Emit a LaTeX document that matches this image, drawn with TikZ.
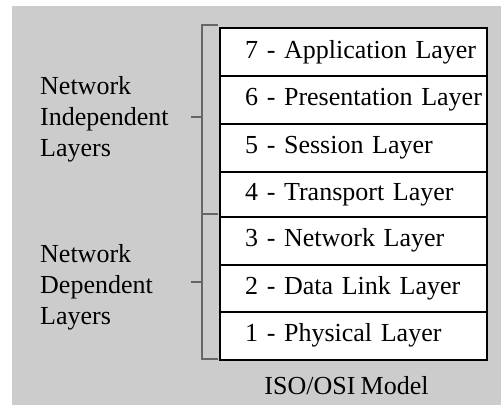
\documentclass[tikz,border=0pt]{standalone}
\usepackage{fontspec}
\setmainfont[WordSpace=0.8]{Liberation Serif}
\definecolor{panelgray}{HTML}{CCCCCC}
\definecolor{bracketgray}{HTML}{666666}
\begin{document}
\begin{tikzpicture}[x=1pt,y=-1pt,
  labelfont/.style={font=\fontsize{26}{31}\selectfont},
  layerbox/.style={labelfont, draw=black, line width=2.2pt, fill=white,
    anchor=north west, minimum width=267pt, inner xsep=0pt, inner ysep=0pt,
    text width=267pt, align=left, text height=18pt, text depth=6pt,
    execute at begin node=\hspace*{25pt}},
  grouplabel/.style={labelfont, align=left, anchor=north west, inner sep=0pt},
  bracket/.style={draw=bracketgray, line width=2pt},
  bracketmark/.style={draw=bracketgray, line width=1.2pt}]
  \useasboundingbox (0,0) rectangle (501,405);
  \fill[panelgray] (12,6) rectangle (501,405);

  % the seven layers, top to bottom
  \node[layerbox, minimum height=48pt]   (l7) at (219,27)    {7 - Application Layer};
  \node[layerbox, minimum height=47.5pt] (l6) at (219,75)    {6 - Presentation Layer};
  \node[layerbox, minimum height=48pt]   (l5) at (219,122.5) {5 - Session Layer};
  \node[layerbox, minimum height=45pt]   (l4) at (219,170.5) {4 - Transport Layer};
  \node[layerbox, minimum height=48.5pt] (l3) at (219,215.5) {3 - Network Layer};
  \node[layerbox, minimum height=47pt]   (l2) at (219,264)   {2 - Data Link Layer};
  \node[layerbox, minimum height=47.5pt] (l1) at (219,311)   {1 - Physical Layer};

  % group brackets
  \coordinate (ta) at (218,25);
  \coordinate (tb) at (202,25);
  \coordinate (mb) at (202,214);
  \coordinate (ma) at (218,214);
  \coordinate (bb) at (202,358.5);
  \coordinate (ba) at (218,358.5);
  \draw[bracket] (ta) -- (tb) -- (mb) -- (ma);
  \draw[bracket] (mb) -- (bb) -- (ba);
  \coordinate (t1) at (202,117);
  \coordinate (t0) at (191,117);
  \coordinate (d1) at (202,282);
  \coordinate (d0) at (191,282);
  \draw[bracketmark] (t0) -- (t1);
  \draw[bracketmark] (d0) -- (d1);

  \node[grouplabel] (indep) at (40,76.5)  {Network\\Independent\\Layers};
  \node[grouplabel] (dep)   at (40,244.7) {Network\\Dependent\\Layers};

  \node[labelfont, anchor=base, inner sep=0pt] (title) at (346.5,394) {ISO/OSI Model};
\end{tikzpicture}
\end{document}
